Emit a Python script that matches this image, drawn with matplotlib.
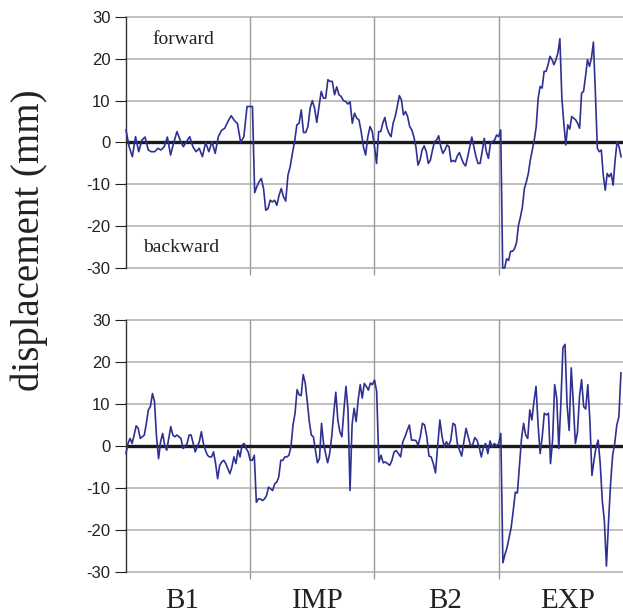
import numpy as np
import matplotlib.pyplot as plt

# ---- data (displacement, mm), one list per phase ----
phases = ["B1", "IMP", "B2", "EXP"]

top_b1 = [3.0, -1, -3.4, 1.4, -2.2, 0.6, 1.3, -1.8, -2.2, -2.2, -1.4, -1.8, -1, 1.3,
          -3, 0, 2.6, 0.6, -1, 0.2, 1.4, -1, -2.2, -1.4, -3.4, 0, -2.2, 0.2, -2.6, 1.4,
          2.9, 3.4, 5, 6.4, 5.3, 4.5, 0, 1.4, 8.6]
top_imp = [8.6, 8.6, -12, -10.5, -9.4, -8.6, -11, -16.2, -15.8, -13.8, -14.2, -13.8,
           -15, -12.6, -11, -13, -14, -7.8, -5.8, -2.6, 0.2, 4.2, 4.6, 7.8, 2.4, 2.4,
           3.8, 8.2, 10, 8.2, 4.8, 8.6, 12.2, 10.6, 10.6, 15, 14.6, 14.6, 11.4, 13.3,
           11.4, 11, 10, 9.8, 9.2, 9.7, 4.6, 7, 5.8, 5.4, 2.6, -1, -3, 1.4, 3.8, 2.6]
top_b2 = [-1, -5, 2.6, 2.6, 4.6, 6, 3.5, 2.2, 1.4, 4.6, 6.2, 8.6, 11.2, 10.2, 6.6, 7.4,
          6.2, 3.8, 3, 1.4, -1, -5.4, -4.2, -1.8, -0.8, -2.2, -5, -4.2, -1.8, 0.2, 0.6,
          1.6, -1, -2.6, -1.8, -0.6, -1, -4.6, -4.3, -4.6, -3.2, -2.4, -3.8, -5, -5.6,
          -3.4, -1, 1.3, -1, -3.4, -5, -5, -2.2, 1, -2.2, -3.8, -0.2, 0.2, 0.6, 1.8]
top_exp = [1.4, 3, -30, -30, -27.8, -28.2, -26, -26, -25.4, -24, -19.8, -17.8, -15.4,
           -11, -9.4, -7.4, -4.2, -1.8, 0.6, 3.8, 10.6, 13.4, 13, 17, 17, 18.6, 20.6,
           19.8, 18.6, 19.8, 21.4, 24.8, 10.6, 4.6, -0.6, 4.2, 3.2, 6.2, 5.8, 5.4, 4.6,
           3.4, 11.8, 12.2, 15.8, 19.8, 18.2, 20.2, 24, 11.8, -1.4, -2.2, -1.8, -7.8,
           -11.4, -7.4, -8.2, -7.4, -10.2, -4.2, 0.2, -1, -3.4]

bot_b1 = [-1.8, 0.6, 1.8, 0.6, 2.6, 4.8, 4.2, 1.8, 2.2, 2.6, 5.4, 8.6, 9.4, 12.5, 10.6,
          2.2, -3, 1, 3, 0.2, -1, 1.8, 4.6, 2.6, 2.2, 2.6, 2.2, 1.8, -0.6, -0.2, 0.6,
          2.6, 2.6, 0.6, -1.4, -0.2, 1, 3.4, 0.6, -1, -2.2, -2.6, -2.6, -1.4, -4.2,
          -7.8, -4.6, -3.8, -3.4, -4.2, -5.4, -6.6, -5, -2.6, -4.2, -1, -2.6, 0.2, 0.6,
          -0.6, -1.4]
bot_imp = [-3.4, -3.4, -2.2, -13.4, -12.6, -12.6, -13, -12.6, -11.8, -9.8, -10.2, -10.6,
           -9, -8.6, -7.4, -3.4, -3.4, -2.6, -2.6, -2.2, -0.2, 5, 7.8, 13.4, 12.2, 12,
           17, 15, 10.6, 5.8, 2.6, 2.2, -1, -4, -3, 5.4, 0.6, -1.8, -4, -1.8, 2.2, 7.8,
           12.8, 6.2, 3.4, 2.2, 8.6, 14.2, 8.6, -10.6, 5, 9, 5.8, 11, 14.6, 11.4, 14.9,
           14.2, 13.3, 15, 14.6]
bot_b2 = [15.7, 13, -3.8, -2.2, -4, -3.8, -4.2, -4.6, -3.4, -1.4, -1.1, -1.8, -2.6, 1,
          2.2, 3.7, 5, 1.4, 1.4, 1.3, 0.2, 2.2, 5.4, 5, 2.2, -2.4, -2.6, -4.2, -6.4, 0.2,
          6.2, 2.2, -0.2, 1, 0, 1.4, 5.4, 5, 0.6, -1, -2.4, 1, 4.2, 2.2, 0.2, 0.2, 2,
          1.4, -0.2, -2.6, -0.2, 0.6, -1.8, 1.2, -0.2, 0.6, 0]
bot_exp = [0.6, 3, -27.8, -25.8, -24.2, -21.8, -19.4, -15.4, -11, -11.2, -4.6, 1.8, 5.4,
           2.6, 1.8, 8.6, 6.2, 10.6, 14.2, 5, -1.8, 2.2, 7.8, 7.4, 7.8, -4.2, 1.4, 14.6,
           11.4, -0.6, 10.2, 23.4, 24.2, 9.8, 3.7, 18.6, 10.2, 0.6, 3.2, 11.8, 15.8, 9.4,
           8.8, 14.6, 6.2, -7, -3.4, -0.2, 1.4, -4.2, -13, -17.8, -28.6, -18.2, -9, -2.2,
           0.6, 5, 6.9, 17.4]

yticks = [-30, -20, -10, 0, 10, 20, 30]
label_pos = [0.45, 1.545, 2.567, 3.557]

line_color = "#2e3192"
grid_color = "#b4b4b4"
sep_color = "#9a9a9a"


def phase_series(segments):
    # each phase occupies one unit of time, samples spread evenly inside it
    xs, ys = [], []
    for k, seg in enumerate(segments):
        n = len(seg)
        xs.append(k + np.arange(n) / n)
        ys.append(np.asarray(seg, dtype=float))
    return np.concatenate(xs), np.concatenate(ys)


def draw_panel(ax, segments):
    for y in yticks:
        if y == 0:
            continue
        ax.axhline(y, color=grid_color, lw=1.2, zorder=1, clip_on=False)
    for b in range(1, len(phases)):
        ax.axvline(b, color=sep_color, lw=1.0, zorder=1)
    ax.axhline(0, color="#1a1a1a", lw=2.4, zorder=2)

    x, y = phase_series(segments)
    ax.plot(x, y, color=line_color, lw=1.2, zorder=3, clip_on=False)

    ax.set_xlim(0, len(phases))
    ax.set_ylim(-30, 30)
    ax.set_yticks(yticks)
    ax.set_yticklabels([str(t) for t in yticks], fontsize=12,
                       family="Liberation Sans")
    ax.tick_params(axis="y", direction="out", length=8, width=0.8,
                   pad=3, colors="#222222")
    ax.set_xticks(range(1, len(phases)))
    ax.set_xticklabels([])
    ax.tick_params(axis="x", direction="out", length=5, width=1.0,
                   color=sep_color)
    for s in ["top", "right", "bottom"]:
        ax.spines[s].set_visible(False)
    ax.spines["left"].set_color("#333333")
    ax.spines["left"].set_linewidth(1.0)


fig = plt.figure(figsize=(6.23, 6.15), dpi=100)
ax_top = fig.add_axes([0.2022, 0.5642, 0.7978, 0.4082])
ax_bot = fig.add_axes([0.2022, 0.0699, 0.7978, 0.4098])

draw_panel(ax_top, [top_b1, top_imp, top_b2, top_exp])
draw_panel(ax_bot, [bot_b1, bot_imp, bot_b2, bot_exp])

ax_top.text(0.463, 24.5, "forward", ha="center", va="center",
            family="Liberation Serif", fontsize=14, color="#222222")
ax_top.text(0.443, -25, "backward", ha="center", va="center",
            family="Liberation Serif", fontsize=14, color="#222222")

for pos, name in zip(label_pos, phases):
    ax_bot.text(pos, -36.8, name, ha="center", va="center",
                family="Liberation Serif", fontsize=21, color="#222222")

fig.text(0.047, 0.61, "displacement (mm)", rotation=90, ha="center", va="center",
         family="Liberation Serif", fontsize=28, color="#222222")

fig.savefig("out.png", dpi=100)
